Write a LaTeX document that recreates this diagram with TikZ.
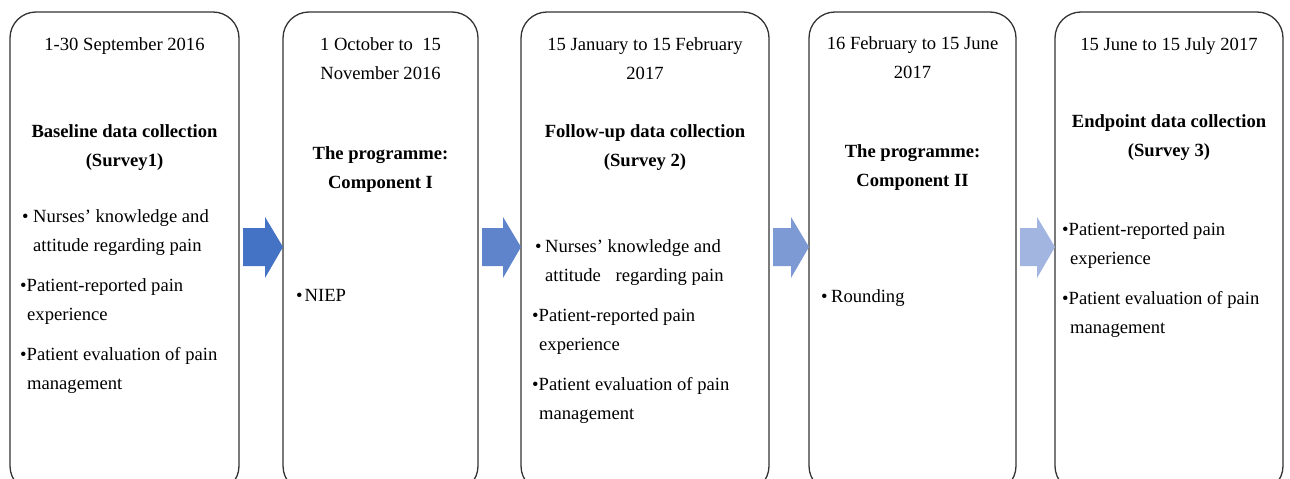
\documentclass[tikz,border=0pt]{standalone}
\usepackage{fontspec}
\setmainfont{Liberation Serif}
\usetikzlibrary{calc}
\definecolor{arrowA}{HTML}{4472C4}
\definecolor{arrowB}{HTML}{5F84CC}
\definecolor{arrowC}{HTML}{7E9AD4}
\definecolor{arrowD}{HTML}{A2B4E0}
% block arrow from one box to the next
\newcommand{\blockarrow}[3]{%
  \fill[#3] ($(#1.east)+(4,-24)$) -- ($(#2.west)+(-18,-24)$) -- ($(#2.west)+(-18,-35)$)
    -- ($(#2.west)+(0,-5)$) -- ($(#2.west)+(-18,26)$) -- ($(#2.west)+(-18,14)$)
    -- ($(#1.east)+(4,14)$) -- cycle;}
\begin{document}
\begin{tikzpicture}[x=1pt,y=-1pt,
	box/.style={draw=black!80,line width=1.3pt,rounded corners=26pt,minimum height=480pt,anchor=north west,inner sep=0pt,outer sep=0pt},
	txt/.style={font=\fontsize{18.6}{29}\selectfont,inner sep=0pt,align=center,anchor=north},
	head/.style={txt,font=\fontsize{18.6}{29}\selectfont\bfseries},
	bul/.style={txt,align=left,anchor=north west}]
	\clip (0,0) rectangle (1290,479);
	% boxes
	\node[box,minimum width=229pt] (b1) at (10,12) {};
	\node[box,minimum width=195pt] (b2) at (283,12) {};
	\node[box,minimum width=248pt] (b3) at (521,12) {};
	\node[box,minimum width=207pt] (b4) at (809,12) {};
	\node[box,minimum width=228pt] (b5) at (1055,12) {};
	% arrows
	\blockarrow{b1}{b2}{arrowA}
	\blockarrow{b2}{b3}{arrowB}
	\blockarrow{b3}{b4}{arrowC}
	\blockarrow{b4}{b5}{arrowD}
	% box 1
	\node[txt] (d1) at (b1.north |- 0,37) {1-30 September 2016};
	\node[head] (h1) at (b1.north |- 0,124) {Baseline data collection\\(Survey1)};
	\node[bul] (l1) at (20,209) {\hspace*{2pt}•\hspace{4.5pt}Nurses’ knowledge and\\\hspace*{13pt}attitude regarding pain\\[11pt]•Patient-reported pain\\\hspace*{7pt}experience\\[11pt]•Patient evaluation of pain\\\hspace*{7pt}management};
	% box 2
	\node[txt] (d2) at (b2.north |- 0,37) {1 October to\ \ 15\\November 2016};
	\node[head] (h2) at (b2.north |- 0,146) {The programme:\\Component I};
	\node[bul] (l2) at (296,289) {•\hspace{2pt}NIEP};
	% box 3
	\node[txt] (d3) at (b3.north |- 0,37) {15 January to 15 February\\2017};
	\node[head] (h3) at (b3.north |- 0,124) {Follow-up data collection\\(Survey 2)};
	\node[bul] (l3) at (532,239) {\hspace*{3pt}•\hspace{3.5pt}Nurses’ knowledge and\\\hspace*{13pt}attitude\hspace{10pt} regarding pain\\[11pt]•Patient-reported pain\\\hspace*{7pt}experience\\[11pt]•Patient evaluation of pain\\\hspace*{7pt}management};
	% box 4
	\node[txt] (d4) at (b4.north |- 0,36) {16 February to 15 June\\2017};
	\node[head] (h4) at (b4.north |- 0,144) {The programme:\\Component II};
	\node[bul] (l4) at (821,289) {•\hspace{3.5pt}Rounding};
	% box 5
	\node[txt] (d5) at (b5.north |- 0,37) {15 June to 15 July 2017};
	\node[head] (h5) at (b5.north |- 0,114) {Endpoint data collection\\(Survey 3)};
	\node[bul] (l5) at (1062,222) {•Patient-reported pain\\\hspace*{8pt}experience\\[11pt]•Patient evaluation of pain\\\hspace*{8pt}management};
\end{tikzpicture}
\end{document}
